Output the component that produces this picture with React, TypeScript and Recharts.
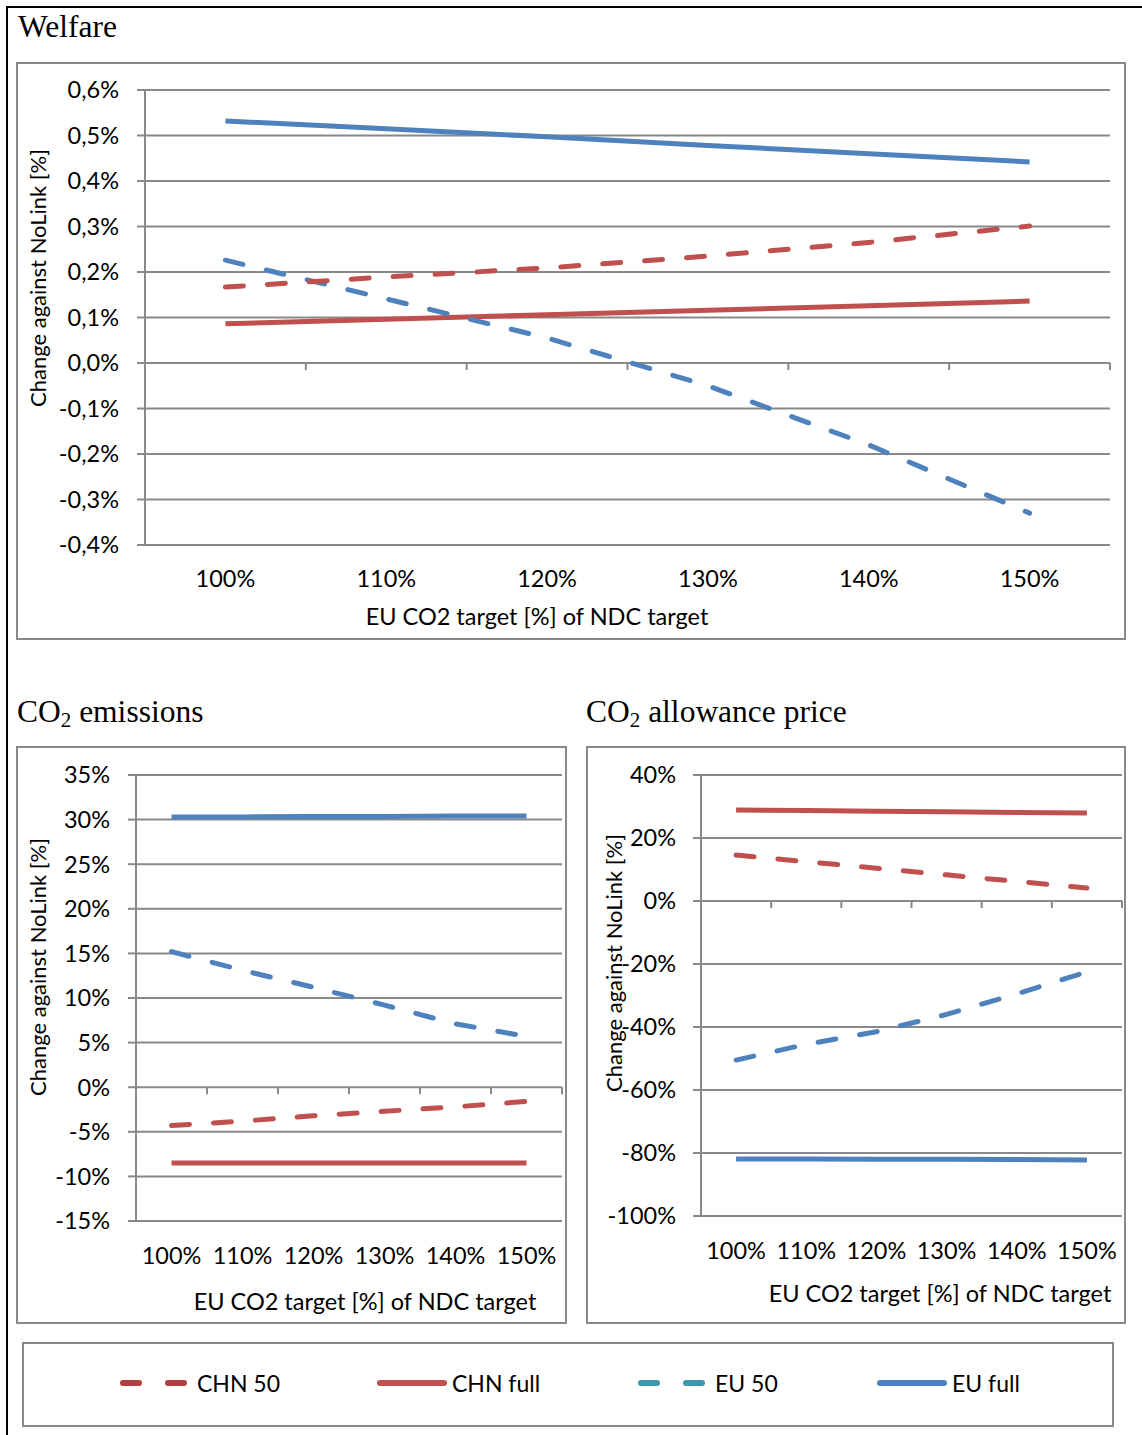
import { CartesianGrid, Line, LineChart, ReferenceLine, XAxis, YAxis } from "recharts"

// EU CO2 target [%] of NDC target
const targets = [100, 110, 120, 130, 140, 150]
// category edges (numeric axis, one band per target)
const edges = [95, 105, 115, 125, 135, 145, 155]

// Welfare, change against NoLink [%]
const welfareChn50 = [0.167, 0.189, 0.209, 0.235, 0.265, 0.301]
const welfareChnFull = [0.086, 0.096, 0.106, 0.116, 0.126, 0.136]
const welfareEu50 = [0.226, 0.141, 0.055, -0.05, -0.18, -0.33]
const welfareEuFull = [0.532, 0.515, 0.497, 0.478, 0.46, 0.442]
const welfareTicks = [-0.4, -0.3, -0.2, -0.1, 0, 0.1, 0.2, 0.3, 0.4, 0.5, 0.6]

// CO2 emissions, change against NoLink [%]
const emisChn50 = [-4.3, -3.8, -3.2, -2.7, -2.2, -1.6]
const emisChnFull = [-8.5, -8.5, -8.5, -8.5, -8.5, -8.5]
const emisEu50 = [15.2, 13.1, 11.2, 9.2, 7.1, 5.7]
const emisEuFull = [30.3, 30.3, 30.35, 30.35, 30.4, 30.4]
const emisTicks = [-15, -10, -5, 0, 5, 10, 15, 20, 25, 30, 35]

// CO2 allowance price, change against NoLink [%]
const priceChn50 = [14.6, 12.5, 10.4, 8.3, 6.2, 4.1]
const priceChnFull = [28.9, 28.7, 28.5, 28.3, 28.1, 27.9]
const priceEu50 = [-50.5, -45.5, -41.5, -36, -29.5, -22.5]
const priceEuFull = [-81.9, -81.9, -82, -82, -82.1, -82.2]
const priceTicks = [-100, -80, -60, -40, -20, 0, 20, 40]

const seriesNames = ["CHN 50", "CHN full", "EU 50", "EU full"]

const RED = "#C0504D"
const BLUE = "#4F81BD"
const GRID = "#898989"
const SANS = "Lato, 'Open Sans', sans-serif"
const SERIF = "'Liberation Serif', 'Times New Roman', serif"

const makeRows = (a: number[], b: number[], c: number[], d: number[]) =>
  targets.map((t, i) => ({ t, chn50: a[i], chnFull: b[i], eu50: c[i], euFull: d[i] }))

interface PanelProps {
  box: { left: number; top: number; width: number; height: number }
  plot: { left: number; top: number; right: number; bottom: number }
  rows: any[]
  ticks: number[]
  fmt: (v: number) => string
  labelGap: number
  xMargin: number
}

function Panel({ box, plot, rows, ticks, fmt, labelGap, xMargin }: PanelProps) {
  const yMin = ticks[0]
  const yMax = ticks[ticks.length - 1]
  const plotH = plot.bottom - plot.top
  const markLen = (7 * (yMax - yMin)) / plotH
  const tickFont = { fill: "#000", fontSize: 23.5, fontFamily: SANS }

  return (
    <>
      <div
        style={{
          position: "absolute",
          left: box.left,
          top: box.top,
          width: box.width - 2,
          height: box.height - 2,
          border: `2px solid ${GRID}`,
        }}
      />
      <div style={{ position: "absolute", left: box.left, top: box.top }}>
        <LineChart
          width={box.width}
          height={box.height}
          data={rows}
          margin={{ top: plot.top - box.top, right: box.left + box.width - plot.right, left: 0, bottom: 0 }}
        >
          <CartesianGrid vertical={false} stroke={GRID} strokeWidth={2} />
          <XAxis
            dataKey='t'
            type='number'
            domain={[95, 155]}
            ticks={targets}
            interval={0}
            height={box.top + box.height - plot.bottom}
            axisLine={false}
            tickLine={false}
            tickSize={0}
            tickMargin={xMargin}
            tick={tickFont}
            tickFormatter={(v) => `${v}%`}
          />
          <YAxis
            type='number'
            domain={[yMin, yMax]}
            ticks={ticks}
            interval={0}
            width={plot.left - box.left}
            axisLine={{ stroke: GRID, strokeWidth: 2 }}
            tickLine={{ stroke: GRID, strokeWidth: 2 }}
            tickSize={8}
            tickMargin={labelGap - 8}
            tick={tickFont}
            tickFormatter={fmt}
          />
          {edges.map((e) => (
            <ReferenceLine
              key={e}
              segment={[{ x: e, y: 0 }, { x: e, y: -markLen }]}
              stroke={GRID}
              strokeWidth={2}
              ifOverflow='visible'
            />
          ))}
          <Line dataKey='euFull' stroke={BLUE} strokeWidth={5} dot={false} isAnimationActive={false} />
          <Line dataKey='chnFull' stroke={RED} strokeWidth={5} dot={false} isAnimationActive={false} />
          <Line
            dataKey='eu50'
            stroke={BLUE}
            strokeWidth={5}
            strokeDasharray='18 24'
            strokeLinecap='round'
            dot={false}
            isAnimationActive={false}
          />
          <Line
            dataKey='chn50'
            stroke={RED}
            strokeWidth={5}
            strokeDasharray='18 24'
            strokeLinecap='round'
            dot={false}
            isAnimationActive={false}
          />
        </LineChart>
      </div>
    </>
  )
}

function Text({ x, y, children, size = 23.5, font = SANS, rotate = false }: any) {
  return (
    <div
      style={{
        position: "absolute",
        left: x,
        top: y,
        transform: `translate(-50%, -50%)${rotate ? " rotate(-90deg)" : ""}`,
        whiteSpace: "nowrap",
        fontFamily: font,
        fontSize: size,
        lineHeight: 1,
        color: "#000",
      }}
    >
      {children}
    </div>
  )
}

function Title({ x, y, children }: any) {
  return (
    <div
      style={{
        position: "absolute",
        left: x,
        top: y,
        fontFamily: SERIF,
        fontSize: 31.5,
        lineHeight: 1,
        whiteSpace: "nowrap",
        color: "#000",
      }}
    >
      {children}
    </div>
  )
}

const legendColors = ["#B0413E", RED, "#3F97AE", BLUE]
const legendDashed = [true, false, true, false]
const legendX = [119, 376, 637, 876]

export default function App() {
  const pct1 = (v: number) => `${v.toFixed(1).replace(".", ",")}%`
  const pct0 = (v: number) => `${v}%`
  const sub = { fontSize: 21, verticalAlign: "-0.25em" }

  return (
    <div style={{ position: "absolute", left: 0, top: 0, width: 1142, height: 1435, background: "#fff" }}>
      {/* page frame */}
      <div style={{ position: "absolute", left: 6, top: 6, width: 1136, height: 2, background: "#000" }} />
      <div style={{ position: "absolute", left: 6, top: 6, width: 2, height: 1429, background: "#000" }} />

      <Title x={18} y={11}>Welfare</Title>
      <Panel
        box={{ left: 16, top: 62, width: 1108, height: 576 }}
        plot={{ left: 145, top: 90, right: 1110, bottom: 545 }}
        rows={makeRows(welfareChn50, welfareChnFull, welfareEu50, welfareEuFull)}
        ticks={welfareTicks}
        fmt={pct1}
        labelGap={26}
        xMargin={25}
      />
      <Text x={537} y={617}>EU CO2 target [%] of NDC target</Text>
      <Text x={38} y={278} size={22} rotate>Change against NoLink [%]</Text>

      <Title x={17} y={696}>
        CO<span style={sub}>2</span> emissions
      </Title>
      <Panel
        box={{ left: 16, top: 746, width: 549, height: 576 }}
        plot={{ left: 136, top: 775, right: 562, bottom: 1221 }}
        rows={makeRows(emisChn50, emisChnFull, emisEu50, emisEuFull)}
        ticks={emisTicks}
        fmt={pct0}
        labelGap={26}
        xMargin={26}
      />
      <Text x={365} y={1302}>EU CO2 target [%] of NDC target</Text>
      <Text x={38} y={967} size={22} rotate>Change against NoLink [%]</Text>

      <Title x={586} y={696}>
        CO<span style={sub}>2</span> allowance price
      </Title>
      <Panel
        box={{ left: 586, top: 746, width: 538, height: 576 }}
        plot={{ left: 701, top: 775, right: 1122, bottom: 1216 }}
        rows={makeRows(priceChn50, priceChnFull, priceEu50, priceEuFull)}
        ticks={priceTicks}
        fmt={pct0}
        labelGap={25}
        xMargin={26}
      />
      <Text x={940} y={1294}>EU CO2 target [%] of NDC target</Text>
      <Text x={614} y={963} size={22} rotate>Change against NoLink [%]</Text>

      {/* legend */}
      <div
        style={{
          position: "absolute",
          left: 22,
          top: 1342,
          width: 1088,
          height: 81,
          border: `2px solid ${GRID}`,
        }}
      />
      {seriesNames.map((name, i) => (
        <div key={name}>
          <svg
            style={{ position: "absolute", left: legendX[i], top: 1377 }}
            width={72}
            height={12}
          >
            <line
              x1={4}
              y1={6}
              x2={68}
              y2={6}
              stroke={legendColors[i]}
              strokeWidth={6}
              strokeLinecap='round'
              strokeDasharray={legendDashed[i] ? "16 29" : undefined}
            />
          </svg>
          <div
            style={{
              position: "absolute",
              left: legendX[i] + (legendDashed[i] ? 78 : 76),
              top: 1383,
              transform: "translateY(-50%)",
              fontFamily: SANS,
              fontSize: 23,
              lineHeight: 1,
              whiteSpace: "nowrap",
            }}
          >
            {name}
          </div>
        </div>
      ))}
    </div>
  )
}
